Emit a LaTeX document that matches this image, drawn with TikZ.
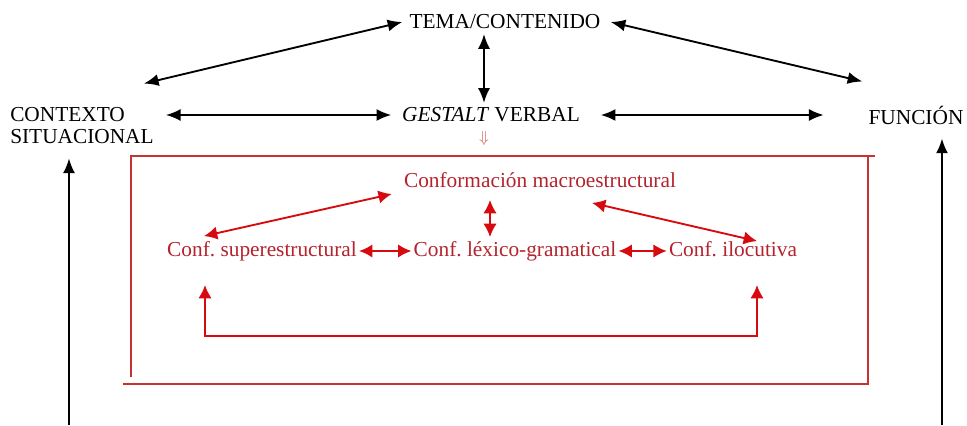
\documentclass[tikz,border=0pt]{standalone}
\usepackage{fontspec}
\setmainfont{Liberation Serif}
\usetikzlibrary{arrows.meta}
\definecolor{boxred}{RGB}{200,50,50}
\definecolor{textred}{RGB}{180,35,45}
\definecolor{arrred}{RGB}{215,10,15}
\tikzset{
	blk/.style={line width=1.4pt,{Latex[length=11pt,width=9pt]}-{Latex[length=11pt,width=9pt]}},
	blkup/.style={line width=1.4pt,-{Latex[length=11pt,width=9pt]}},
	redarr/.style={arrred,line width=1.4pt,{Latex[length=10pt,width=10pt]}-{Latex[length=10pt,width=10pt]}},
	redtext/.style={text=textred,text height=11pt,text depth=3.5pt}
}
\frenchspacing
\begin{document}
\begin{tikzpicture}[x=0.75pt,y=-0.75pt,inner sep=1.5pt,font=\fontsize{16}{16.5}\selectfont]
	\useasboundingbox (0,0) rectangle (967,425);
	% upper level
	\path node (tema) at (505,22) {TEMA/CONTENIDO}
	node (gestalt) at (491,115) [inner ysep=0.5pt] {\textit{GESTALT} VERBAL}
	node (contexto) at (8,126) [anchor=west,align=left] {CONTEXTO\\SITUACIONAL}
	node (funcion) at (916,115) {FUNCIÓN}
	node (dn) at (484,138) [text=boxred!80,inner sep=0pt,font=\fontsize{12}{12}\selectfont] {$\Downarrow$};
	\coordinate (ctxfoot) at (69,425);
	\coordinate (funfoot) at (942,425);
	\draw[blk] ([shift={(-5,0)}]tema.west) -- ([shift={(-12,-22)}]contexto.north east);
	\draw[blk] ([shift={(8,0)}]tema.east) -- ([shift={(-4,-22)}]funcion.north west);
	\draw[blk,shorten <=2pt,shorten >=3pt] (tema.south -| dn) -- (gestalt.north -| dn);
	\draw[blk,shorten <=7.5pt,shorten >=6.5pt] (gestalt.west -| contexto.east) -- (gestalt.west);
	\draw[blk,shorten <=14pt,shorten >=32pt] (gestalt.east) -- (funcion.west);
	\draw[blkup,shorten >=9pt] (ctxfoot) -- (ctxfoot |- contexto.south);
	\draw[blkup,shorten >=9pt] (funfoot) -- (funfoot |- funcion.south);
	% red frame
	\begin{scope}[boxred,line width=1.2pt]
	\draw (130,156) -- (875,156);
	\draw (131,157) -- (131,377);
	\draw (123,384) -- (869,384);
	\draw (868,156) -- (868,384);
	\end{scope}
	% inside the frame
	\path node (macro) at (540,182) [redtext] {Conformación macroestructural}
	node (sup) at (262,251) [redtext] {Conf. superestructural}
	node (lex) at (515,251) [redtext] {Conf. léxico-gramatical}
	node (iloc) at (733,251) [redtext] {Conf. ilocutiva};
	\draw[redarr] ([shift={(-10,12)}]macro.west) -- ([shift={(39,-3)}]sup.north west);
	\draw[redarr] ([shift={(-50,6)}]macro.south) -- ([shift={(-25,-2)}]lex.north);
	\draw[redarr] ([shift={(52,9)}]macro.south) -- ([shift={(24,2)}]iloc.north);
	\draw[redarr] (sup.east) -- (lex.west);
	\draw[redarr] (lex.east) -- (iloc.west);
	\coordinate (loopl) at (205,285);
	\coordinate (loopr) at (757,285);
	\draw[redarr] (loopl) |- (loopr |- 0,336) -- (loopr);
\end{tikzpicture}
\end{document}
